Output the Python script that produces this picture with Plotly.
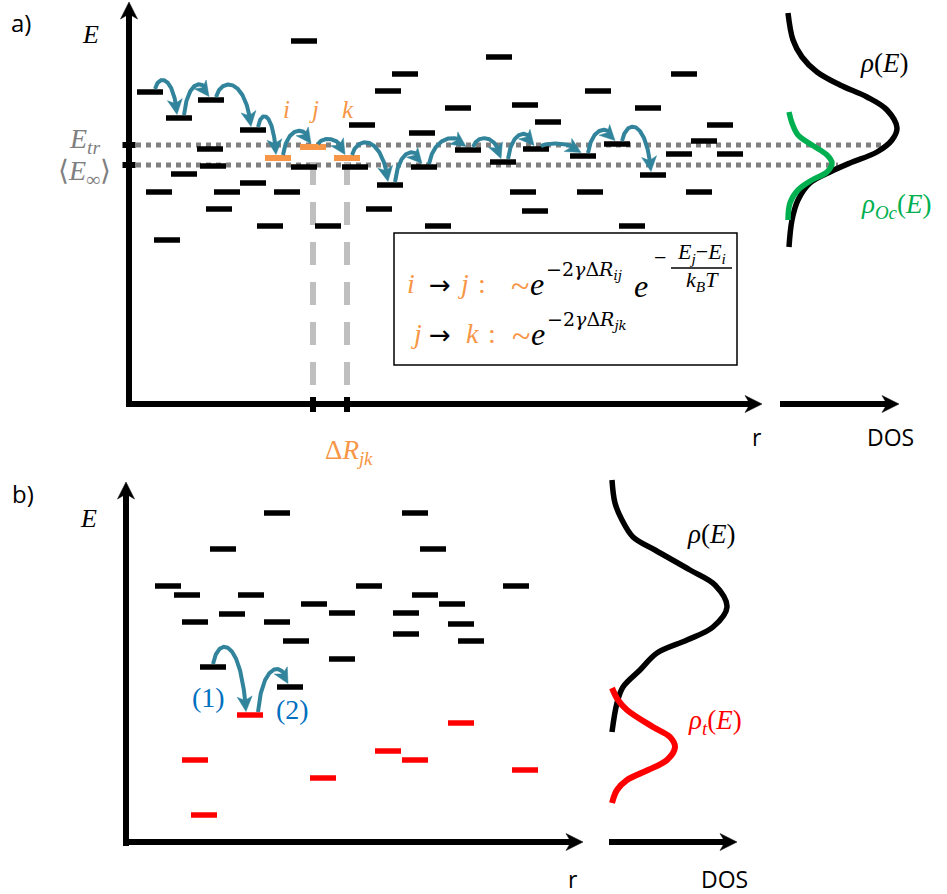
import numpy as np
import plotly.graph_objects as go

W, H = 947, 894
SERIF = "Liberation Serif"
WSERIF = "DejaVu Serif"
SANS = "Open Sans"
TEAL = "#31849B"
ORANGE = "#F79646"
GREEN = "#00B050"
RED = "#FF0000"
BLUE = "#0070C0"
GRAY = "#808080"
LGRAY = "#BFBFBF"

# ---------------- data (diagram units = pixels) ----------------
# panel a: localized states (position r, energy E)
a_site_r = [150, 179, 211, 253, 304, 210, 213, 304, 355, 184, 253, 159, 227, 287, 219, 270, 328, 167,
            499, 405, 684, 388, 598, 458, 525, 648, 362, 548, 720, 422, 617, 704, 468, 536, 679, 730,
            583, 503, 424, 390, 653, 523, 590, 699, 379, 535, 438, 632]
a_site_E = [92, 118, 100, 130, 41, 149, 166, 167, 167, 174, 183, 192, 192, 192, 209, 226, 226, 240,
            57, 74, 74, 91, 91, 108, 105, 108, 125, 122, 125, 133, 144, 141, 150, 149, 154, 154,
            156, 162, 167, 185, 175, 192, 192, 192, 209, 211, 226, 226]
# highlighted sites i, j, k
ijk_labels = ["i", "j", "k"]
ijk_r = [278, 313, 347]
ijk_E = [158, 147, 158]
# hopping chain (site indices; 'i','j','k' refer to highlighted sites)
a_chain = [0, 1, 2, 3, "i", "j", "k", 39, 38, 32, 37, 33, 36, 30, 40]
a_lift = [11, 14, 15, 13, 14, 6, 15, 13, 10, 10, 13, 3, 12, 17]
E_tr = 145
E_inf = 165

# DOS panel a
a_dos_E = [13, 40, 57, 72, 85, 97, 110, 128, 140, 152, 163, 172, 183, 200, 220, 247]
a_dos_v = [788, 793, 802, 817, 840, 867, 887, 897, 892, 877, 850, 830, 810, 798, 792, 789]
a_occ_E = [112, 123, 135, 145, 155, 163, 172, 180, 190, 203, 220]
a_occ_v = [789, 792, 798, 812, 827, 832, 827, 812, 798, 790, 788]

# panel b: states
b_site_r = [277, 223, 168, 187, 251, 314, 232, 195, 277, 296, 213, 415, 433, 369, 516, 425, 452, 342,
            406, 461, 406, 471, 342, 290]
b_site_E = [513, 549, 586, 595, 595, 604, 614, 622, 622, 641, 667, 513, 549, 586, 586, 595, 604, 613,
            613, 624, 634, 641, 659, 687]
b_trap_r = [250, 195, 204, 323, 388, 415, 461, 525]
b_trap_E = [715, 760, 815, 778, 751, 760, 723, 770]
# hops in b: (from black site, to trap) and (from trap, to black site)
b_hops = [("s", 10, "t", 0, 21), ("t", 0, "s", 23, 17)]

# DOS panel b
b_dos_E = [480, 503, 520, 537, 550, 570, 585, 607, 627, 640, 653, 670, 687, 703, 732]
b_dos_v = [612, 615, 622, 633, 655, 690, 715, 727, 713, 687, 657, 640, 623, 617, 612]
b_trp_E = [688, 700, 710, 727, 737, 747, 760, 770, 780, 790, 803]
b_trp_v = [612, 618, 627, 653, 670, 675, 667, 648, 627, 617, 612]

# ---------------- drawing ----------------
fig = go.Figure()
annotations = []
shapes = []


def line(xs, ys, color, width, dash=None, shape="linear"):
    fig.add_trace(go.Scatter(x=xs, y=ys, mode="lines",
                             line=dict(color=color, width=width, dash=dash, shape=shape),
                             hoverinfo="skip", showlegend=False))


def sites(rs, Es, color, half=13, width=5.5):
    X, Y = [], []
    for r, e in zip(rs, Es):
        X += [r - half, r + half, None]
        Y += [e, e, None]
    line(X, Y, color, width)


def head(tip, d, L, Wd, notch, color):
    d = np.asarray(d, float)
    d = d / np.linalg.norm(d)
    p = np.array([-d[1], d[0]])
    tip = np.asarray(tip, float)
    pts = [tip, tip - L * d + Wd / 2 * p, tip - (L - notch) * d, tip - L * d - Wd / 2 * p, tip]
    fig.add_trace(go.Scatter(x=[q[0] for q in pts], y=[q[1] for q in pts], mode="lines",
                             fill="toself", fillcolor=color, line=dict(color=color, width=0.5),
                             hoverinfo="skip", showlegend=False))


def axis_arrow(x0, y0, x1, y1, width=6, L=17, Wd=17, notch=5):
    d = np.array([x1 - x0, y1 - y0], float)
    d /= np.linalg.norm(d)
    end = np.array([x1, y1]) - (L - notch) * d
    line([x0, end[0]], [y0, end[1]], "black", width)
    head((x1, y1), d, L, Wd, notch, "black")


def hop(x0, y0, x1, y1, lift, color=TEAL, width=4, L=15, Wd=15, notch=4):
    c = min(y0, y1) - lift * 1.33
    dx = x1 - x0
    P = np.array([[x0, y0], [x0 + 0.15 * dx, c], [x1 - 0.15 * dx, c], [x1, y1]], float)
    t = np.linspace(0, 1, 120)[:, None]
    B = ((1 - t) ** 3) * P[0] + 3 * ((1 - t) ** 2) * t * P[1] + 3 * (1 - t) * t ** 2 * P[2] + t ** 3 * P[3]
    tip = P[3]
    dist = np.linalg.norm(B - tip, axis=1)
    keep = dist > (L - notch - 1)
    idx = np.argmax(~keep) if (~keep).any() else len(B)
    pts = B[:idx]
    line(list(pts[:, 0]), list(pts[:, 1]), color, width)
    far = np.where(dist > L)[0]
    ref = B[far[-1]] if len(far) else P[2]
    head(tip, tip - ref, L, Wd, notch, color)


def T(x, y, text, size, color="black", font=SERIF, xa="center", ya="middle"):
    annotations.append(dict(x=x, y=y, xref="x", yref="y", text=text, showarrow=False,
                            font=dict(family=font, size=size, color=color),
                            xanchor=xa, yanchor=ya, borderpad=0, borderwidth=0))


# ---- panel a ----
axis_arrow(129, 407, 129, 2)
axis_arrow(126, 404, 762, 404)
axis_arrow(780, 404, 899, 404)

# dotted energy levels
line([136, 882], [E_tr, E_tr], GRAY, 5, dash="5px,5px")
line([136, 838], [E_inf, E_inf], GRAY, 5, dash="5px,5px")
# ticks on E axis
sites([129, 129], [E_tr, E_inf], "black", half=6.5, width=6)

# gray dashed verticals from j and k
for r in ijk_r[1:]:
    line([r, r], [162, 398], LGRAY, 6, dash="23px,17px")
    line([r, r], [397, 412], "black", 6)

sites(a_site_r, a_site_E, "black")
sites(ijk_r, ijk_E, ORANGE, width=6)


def a_pos(k):
    if isinstance(k, str):
        n = ijk_labels.index(k)
        return ijk_r[n], ijk_E[n]
    return a_site_r[k], a_site_E[k]


for n in range(len(a_chain) - 1):
    r0, e0 = a_pos(a_chain[n])
    r1, e1 = a_pos(a_chain[n + 1])
    hop(r0 + 5, e0 - 3, r1 - 2, e1 - 3.5, a_lift[n])

for lab, r in zip(ijk_labels, ijk_r):
    T(r + (8 if lab == "i" else 1), 109, "<i>%s</i>" % lab, 25, ORANGE)

line(a_dos_v, a_dos_E, "black", 5.5, shape="spline")
line(a_occ_v, a_occ_E, GREEN, 5.5, shape="spline")

# box with rates
shapes.append(dict(type="rect", xref="x", yref="y", x0=394, y0=233, x1=737, y1=365,
                   line=dict(color="black", width=1.5)))
# fraction bar
shapes.append(dict(type="line", xref="x", yref="y", x0=671, y0=268, x1=732, y1=268,
                   line=dict(color="black", width=1.5)))

fs = 28
ARW = "DejaVu Sans"
T(411, 283, "<i>i</i>", fs, ORANGE)
T(440, 285, "→", 26, font=ARW)
T(463, 283, "<i>j</i>", fs, ORANGE)
T(482, 283, ":", fs, ORANGE)
T(520, 285, "~", 34, ORANGE)
T(530, 284, "<i>e</i>", 32, xa="left")
T(546, 270, "−2<i>γ</i>Δ<i>R</i><sub><i>ij</i></sub>", 19, font=WSERIF, xa="left")
T(634, 286, "<i>e</i>", 32, xa="left")
T(654, 257, "−", 22, xa="left")
T(701, 253, "<i>E</i><sub><i>j</i></sub>−<i>E</i><sub><i>i</i></sub>", 22)
T(702, 281, "<i>k</i><sub><i>B</i></sub><i>T</i>", 22)

T(416, 333, "<i>j</i>", fs, ORANGE)
T(440, 335, "→", 26, font=ARW)
T(472, 333, "<i>k</i>", fs, ORANGE)
T(492, 333, ":", fs, ORANGE)
T(521, 335, "~", 34, ORANGE)
T(531, 334, "<i>e</i>", 32, xa="left")
T(547, 320, "−2<i>γ</i>Δ<i>R</i><sub><i>jk</i></sub>", 19, font=WSERIF, xa="left")

# labels panel a
T(21, 22, "a)", 24, font=SANS)
T(90, 34, "<i>E</i>", 26)
T(101, 140, "<i>E</i><sub><i>tr</i></sub>", 28, GRAY, xa="right")
T(84, 172, "⟨<i>E</i><sub>∞</sub>⟩", 28, GRAY)
T(349, 452, "Δ<i>R</i><sub><i>jk</i></sub>", 27, ORANGE)
T(757, 437, "r", 23, font=SANS)
T(890, 437, "DOS", 23, font=SANS)
T(884, 63, "<i>ρ</i>(<i>E</i>)", 27)
T(896, 206, "<i>ρ</i><sub><i>Oc</i></sub>(<i>E</i>)", 27, GREEN)

# ---- panel b ----
axis_arrow(126, 846, 126, 482)
axis_arrow(123, 842, 583, 842)
axis_arrow(609, 842, 737, 842)

sites(b_site_r, b_site_E, "black")
sites(b_trap_r, b_trap_E, RED)


def b_pos(kind, k):
    return (b_site_r[k], b_site_E[k]) if kind == "s" else (b_trap_r[k], b_trap_E[k])


offs = [(0, -4), (8, -2)]
for (k0, i0, k1, i1, lift), (o0, o1) in zip(b_hops, offs):
    r0, e0 = b_pos(k0, i0)
    r1, e1 = b_pos(k1, i1)
    hop(r0 + o0, e0 - 3, r1 + o1, e1 - 3.5, lift)

line(b_dos_v, b_dos_E, "black", 5.5, shape="spline")
line(b_trp_v, b_trp_E, RED, 6, shape="spline")

T(23, 493, "b)", 24, font=SANS)
T(88, 518, "<i>E</i>", 26)
T(208, 697, "(1)", 28, BLUE)
T(292, 709, "(2)", 28, BLUE)
T(711, 534, "<i>ρ</i>(<i>E</i>)", 27)
T(715, 722, "<i>ρ</i><sub><i>t</i></sub>(<i>E</i>)", 27, RED)
T(573, 879, "r", 23, font=SANS)
T(724, 879, "DOS", 23, font=SANS)

fig.update_layout(
    width=W, height=H, autosize=False,
    margin=dict(l=0, r=0, t=0, b=0),
    paper_bgcolor="white", plot_bgcolor="white",
    xaxis=dict(range=[0, W], visible=False, fixedrange=True),
    yaxis=dict(range=[H, 0], visible=False, fixedrange=True),
    annotations=annotations, shapes=shapes, showlegend=False,
)
fig.write_html("out.html", config={"displayModeBar": False},
               post_script="document.body.style.margin='0';document.body.style.overflow='hidden';")
